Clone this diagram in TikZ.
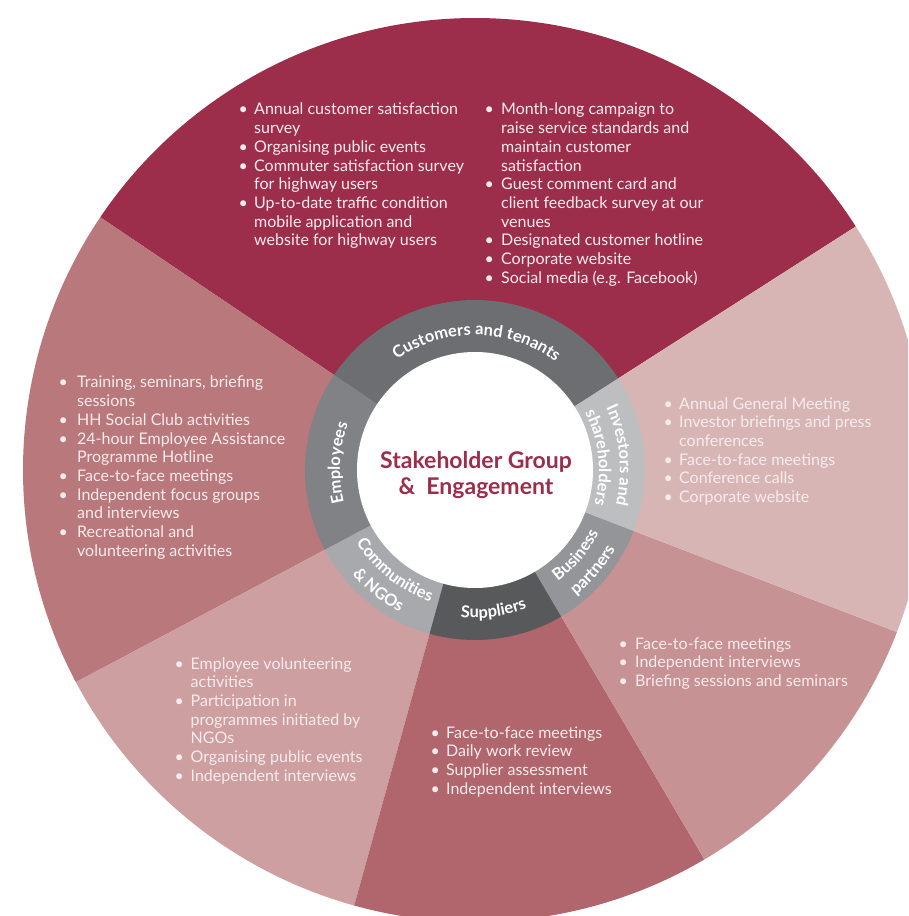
\documentclass[tikz,border=0pt]{standalone}
\usepackage{fontspec}
\setmainfont{Lato}
\usetikzlibrary{decorations.text}
\definecolor{cCust}{HTML}{9C2D4B}
\definecolor{cEmp}{HTML}{B9787B}
\definecolor{cCom}{HTML}{CD9FA0}
\definecolor{cSup}{HTML}{B0666C}
\definecolor{cBus}{HTML}{C69294}
\definecolor{cInv}{HTML}{D8B5B5}
\definecolor{rCust}{HTML}{6D6E71}
\definecolor{rEmp}{HTML}{808285}
\definecolor{rCom}{HTML}{A7A9AC}
\definecolor{rSup}{HTML}{58595B}
\definecolor{rBus}{HTML}{939598}
\definecolor{rInv}{HTML}{BCBEC0}
\definecolor{txt}{HTML}{F7EBED}
\newcommand\ringfont{\fontsize{16.5}{16.5}\selectfont\bfseries}
\begin{document}
\begin{tikzpicture}[x=1pt,y=1pt,
  body/.style={inner sep=0pt, anchor=base west, text=txt, font=\fontsize{16}{18.7}\selectfont},
  ringtxt/.style={decorate, decoration={text along path, text align=center, text color=white, text={|\ringfont|#1}}},
  title/.style={inner sep=0pt, align=center, text=cCust, font=\fontsize{23}{26.5}\selectfont\bfseries}]
\useasboundingbox (-475,-446) rectangle (433,470);
\clip (-475,-446) rectangle (433,470);
% outer sectors
\def\R{452}
\fill[cCust] (0,0) -- (32.6:\R) arc[start angle=32.6, end angle=146, radius=\R] -- cycle;
\fill[cEmp] (0,0) -- (146:\R) arc[start angle=146, end angle=208, radius=\R] -- cycle;
\fill[cCom] (0,0) -- (208:\R) arc[start angle=208, end angle=254.5, radius=\R] -- cycle;
\fill[cSup] (0,0) -- (254.5:\R) arc[start angle=254.5, end angle=300.5, radius=\R] -- cycle;
\fill[cBus] (0,0) -- (300.5:\R) arc[start angle=300.5, end angle=339, radius=\R] -- cycle;
\fill[cInv] (0,0) -- (339:\R) arc[start angle=339, end angle=392.6, radius=\R] -- cycle;
% ring
\def\ro{170}
\fill[rCust] (0,0) -- (32.6:\ro) arc[start angle=32.6, end angle=146, radius=\ro] -- cycle;
\fill[rEmp] (0,0) -- (146:\ro) arc[start angle=146, end angle=208, radius=\ro] -- cycle;
\fill[rCom] (0,0) -- (208:\ro) arc[start angle=208, end angle=254.5, radius=\ro] -- cycle;
\fill[rSup] (0,0) -- (254.5:\ro) arc[start angle=254.5, end angle=300.5, radius=\ro] -- cycle;
\fill[rBus] (0,0) -- (300.5:\ro) arc[start angle=300.5, end angle=339, radius=\ro] -- cycle;
\fill[rInv] (0,0) -- (339:\ro) arc[start angle=339, end angle=392.6, radius=\ro] -- cycle;
\fill[white] (0,0) circle[radius=118];
% ring labels
\path[ringtxt={Customers and tenants}] (146:135) arc[start angle=146, end angle=32.6, radius=135];
\path[ringtxt={Employees}] (208:135) arc[start angle=208, end angle=146, radius=135];
\path[ringtxt={Investors and}] (32.6:145) arc[start angle=32.6, end angle=-21, radius=145];
\path[ringtxt={shareholders}] (32.6:124) arc[start angle=32.6, end angle=-21, radius=124];
\path[ringtxt={Business}] (-59.5:139) arc[start angle=-59.5, end angle=-21, radius=139];
\path[ringtxt={partners}] (-59.5:161) arc[start angle=-59.5, end angle=-21, radius=161];
\path[ringtxt={Suppliers}] (254.5:148) arc[start angle=254.5, end angle=300.5, radius=148];
\path[ringtxt={Communities}] (208:139) arc[start angle=208, end angle=254.5, radius=139];
\path[ringtxt={{\&} NGOs}] (208:161) arc[start angle=208, end angle=254.5, radius=161];
% title
\node[title] (ttl) at (1,-5) {Stakeholder Group\\\&~~Engagement};
% text blocks
\node[body] (custL) at (-236.5,355) {\begin{tabular}[t]{@{}p{15.5pt}@{}l@{}}
\textbullet & Annual customer satisfaction\\
 & survey\\
\textbullet & Organising public events\\
\textbullet & Commuter satisfaction survey\\
 & for highway users\\
\textbullet & Up-to-date traffic condition\\
 & mobile application and\\
 & website for highway users
\end{tabular}};
\node[body] (custR) at (9.5,355) {\begin{tabular}[t]{@{}p{16.5pt}@{}l@{}}
\textbullet & Month-long campaign to\\
 & raise service standards and\\
 & maintain customer\\
 & satisfaction\\
\textbullet & Guest comment card and\\
 & client feedback survey at our\\
 & venues\\
\textbullet & Designated customer hotline\\
\textbullet & Corporate website\\
\textbullet & Social media (e.g. Facebook)
\end{tabular}};
\node[body] (emp) at (-416.5,82) {\begin{tabular}[t]{@{}p{18.5pt}@{}l@{}}
\textbullet & Training, seminars, briefing\\
 & sessions\\
\textbullet & HH Social Club activities\\
\textbullet & 24-hour Employee Assistance\\
 & Programme Hotline\\
\textbullet & Face-to-face meetings\\
\textbullet & Independent focus groups\\
 & and interviews\\
\textbullet & Recreational and\\
 & volunteering activities
\end{tabular}};
\node[body] (inv) at (188.5,61) {\begin{tabular}[t]{@{}p{15.5pt}@{}l@{}}
\textbullet & Annual General Meeting\\
\textbullet & Investor briefings and press\\
 & conferences\\
\textbullet & Face-to-face meetings\\
\textbullet & Conference calls\\
\textbullet & Corporate website
\end{tabular}};
\node[body] (bus) at (143.5,-179) {\begin{tabular}[t]{@{}p{16.5pt}@{}l@{}}
\textbullet & Face-to-face meetings\\
\textbullet & Independent interviews\\
\textbullet & Briefing sessions and seminars
\end{tabular}};
\node[body] (sup) at (-44.5,-268) {\begin{tabular}[t]{@{}p{15.5pt}@{}l@{}}
\textbullet & Face-to-face meetings\\
\textbullet & Daily work review\\
\textbullet & Supplier assessment\\
\textbullet & Independent interviews
\end{tabular}};
\node[body] (com) at (-300.5,-199) {\begin{tabular}[t]{@{}p{16pt}@{}l@{}}
\textbullet & Employee volunteering\\
 & activities\\
\textbullet & Participation in\\
 & programmes initiated by\\
 & NGOs\\
\textbullet & Organising public events\\
\textbullet & Independent interviews
\end{tabular}};
\end{tikzpicture}
\end{document}
